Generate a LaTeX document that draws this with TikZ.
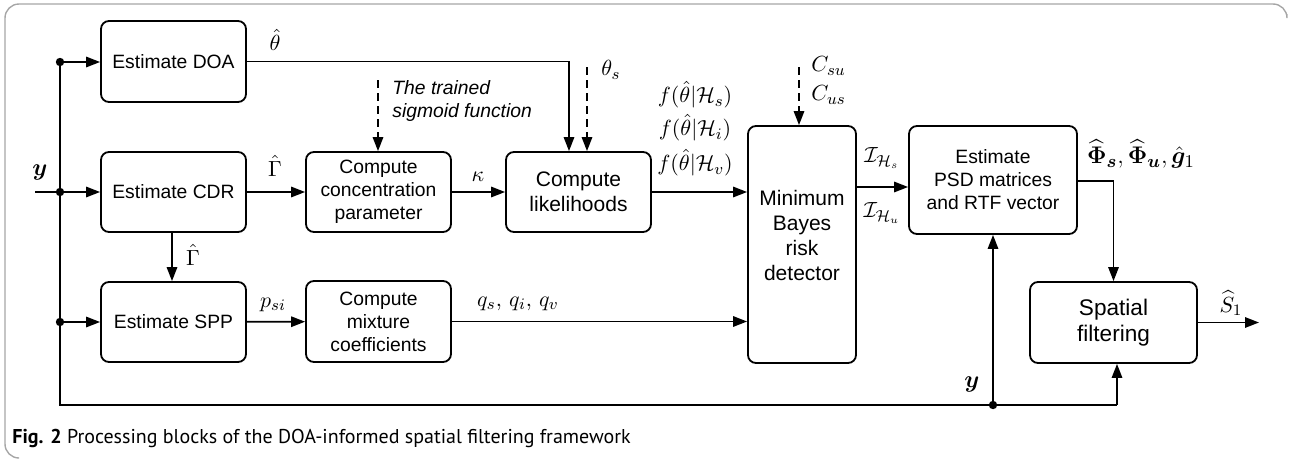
\documentclass[tikz,border=0pt]{standalone}
\usepackage{amsmath,amssymb,bm}
\usepackage[no-math]{fontspec}
\setmainfont{Liberation Sans}
\newfontfamily\capfont{PT Sans}
\usetikzlibrary{arrows.meta}

\tikzset{
  blk/.style={draw, line width=0.9pt, rounded corners=4pt, align=center,
    inner sep=1pt, font=\fontsize{9.65}{11.5}\selectfont},
  wire/.style={line width=0.9pt},
  sig/.style={wire, -{Triangle[length=7pt,width=5.2pt]}},
  dsh/.style={sig, dash pattern=on 4pt off 2.5pt},
  lbl/.style={inner sep=0pt, font=\fontsize{11}{13}\selectfont},
  junc/.style={circle, fill, inner sep=0pt, minimum size=4.2pt},
}

\begin{document}
\begin{tikzpicture}[x=0.5pt, y=-0.5pt]
\useasboundingbox (0,0) rectangle (1289,461);

% outer frame
\draw[gray!70, line width=0.7pt, rounded corners=7pt]
  (18,458) -- (5,458) -- (5,4) -- (1287,4) -- (1287,14);

% processing blocks
\node[blk, minimum width=72.5pt, minimum height=40.5pt] (doa)  at (173.5,61.5) {Estimate DOA};
\node[blk, minimum width=72.5pt, minimum height=40pt]   (cdr)  at (173.5,192)  {Estimate CDR};
\node[blk, minimum width=72.5pt, minimum height=40pt]   (spp)  at (173.5,322)  {Estimate SPP};
\node[blk, minimum width=72.5pt, minimum height=40pt]   (conc) at (378.5,192)  {Compute\\concentration\\parameter};
\node[blk, minimum width=72.5pt, minimum height=40.5pt] (mix)  at (378.5,321.5) {Compute\\mixture\\coefficients};
\node[blk, minimum width=72.5pt, minimum height=40pt, font=\fontsize{10.5}{12.5}\selectfont]
  (lik) at (578.5,192) {Compute\\likelihoods};
\node[blk, minimum width=54pt, minimum height=118.5pt] (bayes) at (802,244.5) {};
\node[align=center, inner sep=0pt, font=\fontsize{10.5}{12.5}\selectfont] (bayestxt) at (802,235)
  {Minimum\\Bayes\\risk\\detector};
\node[blk, minimum width=84pt, minimum height=54pt] (psd) at (993,180)
  {Estimate\\PSD matrices\\and RTF vector};
\node[blk, minimum width=83.5pt, minimum height=40.5pt, font=\fontsize{11.3}{13}\selectfont]
  (sf) at (1113.5,322.5) {Spatial\\filtering};

% signal distribution of y
\coordinate (in) at (35,192);
\coordinate (j1) at (60,62);
\coordinate (j2) at (60,192);
\coordinate (j3) at (60,322);
\coordinate (bl) at (60,405);
\coordinate (j4) at (993,405);
\coordinate (br) at (1117,405);
\draw[wire] (in) -- (j2);
\draw[wire] (j1) -- (bl) -- (br);
\draw[sig] (j1) -- (j1 -| doa.west);
\draw[sig] (j2) -- (cdr.west);
\draw[sig] (j3) -- (j3 -| spp.west);
\draw[sig] (br) -- (br |- sf.south);
\draw[sig] (j4) -- (j4 |- psd.south);
\foreach \j in {j1,j2,j3,j4} \node[junc] at (\j) {};

% main signal path
\draw[sig] (doa.east) -| (569,0 |- lik.north);
\draw[sig] (cdr) -- (conc);
\draw[sig] (conc) -- (lik);
\draw[sig] (lik.east) -- (lik.east -| bayes.west);
\draw[sig] (cdr.south -| 172,0) -- (spp.north -| 172,0);
\draw[sig] (spp) -- (mix);
\draw[sig] (mix.east) -- (mix.east -| bayes.west);
\draw[sig] (bayes.east |- 0,187) -- (psd.west |- 0,187);
\draw[sig] (psd.east |- 0,181) -| (sf.north);
\coordinate (out) at (1259,322.5);
\draw[sig] (sf.east) -- (out);

% prior knowledge inputs
\coordinate (sgtop) at (378,80);
\coordinate (thtop) at (587,67);
\coordinate (ctop) at (799,67);
\draw[dsh] (sgtop) -- (sgtop |- conc.north);
\draw[dsh] (thtop) -- (thtop |- lik.north);
\draw[dsh] (ctop) -- (ctop |- bayes.north);

% labels
\node[lbl, font=\fontsize{12}{14}\selectfont] (yin) at (40,172) {$\boldsymbol{y}$};
\node[lbl, font=\fontsize{12}{14}\selectfont] (ybot) at (972,384) {$\boldsymbol{y}$};
\node[lbl] (thhat) at (275,40) {$\hat{\theta}$};
\node[lbl] (gam1) at (275,166) {$\hat{\Gamma}$};
\node[lbl] (gam2) at (193,255) {$\hat{\Gamma}$};
\node[lbl] (kap) at (478,177) {$\kappa$};
\node[lbl] (ths) at (611,70) {$\theta_s$};
\node[lbl] (fs) at (695,95) {$f(\hat{\theta}|\mathcal{H}_s)$};
\node[lbl] (fi) at (695,128) {$f(\hat{\theta}|\mathcal{H}_i)$};
\node[lbl] (fv) at (695,163) {$f(\hat{\theta}|\mathcal{H}_v)$};
\node[lbl, anchor=west] (csu) at (811,66) {$C_{su}$};
\node[lbl, anchor=west] (cus) at (811,95) {$C_{us}$};
\node[lbl] (ihs) at (882,158) {$\mathcal{I}_{\mathcal{H}_s}$};
\node[lbl] (ihu) at (882,213) {$\mathcal{I}_{\mathcal{H}_u}$};
\node[lbl, font=\fontsize{13}{15}\selectfont] (phi) at (1141,154)
  {$\widehat{\boldsymbol{\Phi}}_{\boldsymbol{s}}, \widehat{\boldsymbol{\Phi}}_{\boldsymbol{u}}, \hat{\boldsymbol{g}}_1$};
\node[lbl] (shat) at (1231,303) {$\widehat{S}_1$};
\node[lbl] (psi) at (273,305) {$p_{si}$};
\node[lbl] (qs) at (518,304) {$q_s,\, q_i,\, q_v$};
\node[align=left, anchor=west, inner sep=0pt, font=\fontsize{9.65}{11.5}\selectfont\itshape]
  (sigtxt) at (392,101) {The trained\\sigmoid function};

% caption
\node[anchor=base west, inner sep=0pt, font=\capfont\fontsize{10}{12}\selectfont] (cap) at (12,443)
  {\textbf{Fig. 2} Processing blocks of the DOA-informed spatial filtering framework};
\end{tikzpicture}
\end{document}
